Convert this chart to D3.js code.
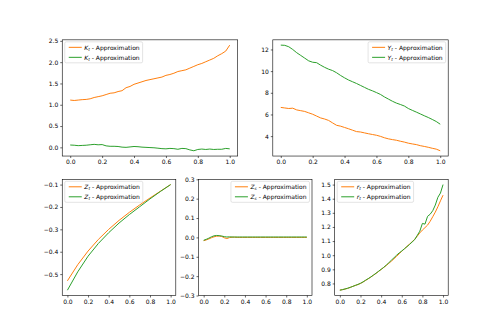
<!DOCTYPE html>
<html><head><meta charset="utf-8">
<script src="https://cdn.jsdelivr.net/npm/d3@7"></script>
<style>
body{margin:0;background:#fff;}
text{font-family:"DejaVu Sans",sans-serif;}
</style></head>
<body><svg id="c" width="498" height="332"></svg>
<script>
// ---- data ----
const xFine = d3.range(41).map(i => i / 40);           // 0, 0.025, ... 1.0
const xTicks = [0, 0.2, 0.4, 0.6, 0.8, 1.0];

const kApprox = [1.11,1.10,1.11,1.12,1.125,1.14,1.17,1.19,1.21,1.24,1.27,1.28,1.31,1.33,1.40,1.43,1.48,1.51,1.54,1.57,1.59,1.61,1.63,1.65,1.69,1.71,1.74,1.78,1.80,1.82,1.86,1.90,1.94,1.97,2.01,2.05,2.09,2.15,2.20,2.26,2.40];
const kExact  = [0.055,0.05,0.04,0.045,0.05,0.06,0.07,0.06,0.065,0.035,0.025,0.025,0.02,0.005,0.0,0.01,0.02,0.015,0.005,0.0,-0.005,-0.01,-0.02,-0.03,-0.035,-0.025,-0.03,-0.045,-0.025,-0.03,-0.06,-0.08,-0.05,-0.04,-0.05,-0.04,-0.05,-0.045,-0.045,-0.025,-0.035];
const kTicks = [0.0, 0.5, 1.0, 1.5, 2.0, 2.5];

const yApprox = [6.65,6.60,6.55,6.58,6.42,6.35,6.28,6.15,6.02,5.85,5.68,5.58,5.45,5.22,5.00,4.92,4.80,4.68,4.55,4.42,4.38,4.30,4.22,4.15,4.08,3.98,3.85,3.75,3.68,3.62,3.53,3.45,3.35,3.28,3.22,3.12,3.05,2.97,2.88,2.80,2.65];
const yExact  = [12.40,12.38,12.25,12.0,11.7,11.45,11.2,10.95,10.82,10.78,10.55,10.35,10.18,10.05,9.85,9.6,9.38,9.18,9.02,8.86,8.68,8.5,8.32,8.18,8.02,7.85,7.62,7.42,7.22,7.05,6.92,6.78,6.55,6.38,6.22,6.05,5.88,5.72,5.54,5.35,5.10];
const yTicksY = [4, 6, 8, 10, 12];

const xCoarse = d3.range(11).map(i => i / 10);
const ztApprox = [-0.530,-0.458,-0.397,-0.345,-0.300,-0.260,-0.224,-0.191,-0.160,-0.130,-0.100];
const ztExact  = [-0.572,-0.490,-0.420,-0.363,-0.315,-0.272,-0.234,-0.199,-0.164,-0.131,-0.100];
const ztTicks = [-0.5, -0.4, -0.3, -0.2, -0.1];

const zsApprox = [-0.017,-0.013,-0.008,-0.002,0.003,0.006,0.007,0.005,-0.002,-0.006,-0.001,0.001,0.001,0,0,0,0,0,0,0,0,0,0,0,0,0,0,0,0,0,0,0,0,0,0,0,0,0,0,0,0];
const zsExact  = [-0.015,-0.010,-0.004,0.003,0.008,0.010,0.009,0.007,0.004,0.002,0.003,0.002,0.002,0.002,0.002,0.002,0.002,0.002,0.002,0.002,0.002,0.002,0.002,0.002,0.002,0.002,0.002,0.002,0.002,0.002,0.002,0.002,0.002,0.002,0.002,0.002,0.002,0.002,0.002,0.002,0.002];
const zsTicks = [-0.3, -0.2, -0.1, 0.0, 0.1, 0.2, 0.3];

const rApprox = [0.753,0.756,0.760,0.765,0.772,0.779,0.786,0.792,0.800,0.810,0.822,0.833,0.845,0.858,0.871,0.885,0.899,0.913,0.927,0.943,0.958,0.975,0.992,1.010,1.028,1.045,1.062,1.078,1.095,1.112,1.135,1.158,1.178,1.195,1.213,1.240,1.272,1.305,1.343,1.385,1.425];
const rExact  = [0.752,0.756,0.761,0.766,0.772,0.779,0.786,0.793,0.801,0.811,0.823,0.834,0.846,0.859,0.872,0.886,0.900,0.914,0.930,0.947,0.965,0.982,1.000,1.016,1.030,1.045,1.060,1.076,1.093,1.110,1.140,1.170,1.225,1.220,1.275,1.290,1.315,1.355,1.410,1.440,1.500];
const rTicks = [0.8, 0.9, 1.0, 1.1, 1.2, 1.3, 1.4, 1.5];

// ---- styles ----
const ORANGE = "#ff7f0e", GREEN = "#2ca02c";
const FS = 6;

const svg = d3.select("#c");

function panel(o) {
  const x = d3.scaleLinear().domain([-0.05, 1.05]).range([o.left, o.right]);
  let dom = o.yDomain;
  if (!dom) {
    const all = o.series.flatMap(s => s.values);
    const mn = d3.min(all), mx = d3.max(all), r = mx - mn;
    dom = [mn - 0.05 * r, mx + 0.05 * r];
  }
  const y = d3.scaleLinear().domain(dom).range([o.bottom, o.top]);
  const g = svg.append("g");

  const line = d3.line().x(d => x(d[0])).y(d => y(d[1]));
  o.series.forEach(s => {
    g.append("path").datum(o.x.map((xv, i) => [xv, s.values[i]]))
      .attr("d", line).attr("fill", "none").attr("stroke", s.color).attr("stroke-width", 1);
  });

  const fmt = o.fmt || d3.format(".1f");
  const ax = g.append("g").attr("transform", `translate(0,${o.bottom})`)
    .call(d3.axisBottom(x).tickValues(xTicks).tickFormat(d3.format(".1f")).tickSize(2).tickPadding(2));
  const ay = g.append("g").attr("transform", `translate(${o.left},0)`)
    .call(d3.axisLeft(y).tickValues(o.yTicks).tickFormat(fmt).tickSize(2).tickPadding(2));
  [ax, ay].forEach(a => {
    a.select(".domain").remove();
    a.selectAll("line").attr("stroke", "#000").attr("stroke-width", 0.6);
    a.selectAll("text").attr("font-size", FS).attr("fill", "#000").attr("font-family", "DejaVu Sans");
  });
  g.append("rect").attr("x", o.left).attr("y", o.top)
    .attr("width", o.right - o.left).attr("height", o.bottom - o.top)
    .attr("fill", "none").attr("stroke", "#000").attr("stroke-width", 0.6);

  // legend
  const lg = g.append("g");
  const rows = o.series.map((s, i) => {
    const t = lg.append("text").attr("font-size", FS).attr("fill", "#000");
    t.append("tspan").attr("font-style", "italic").text(o.sym);
    t.append("tspan").attr("font-style", "italic").attr("font-size", 4.2).attr("dy", 1.3).text(o.sub);
    t.append("tspan").attr("dy", -1.3).text(" - Approximation");
    return t;
  });
  const tw = d3.max(rows, t => t.node().getComputedTextLength());
  const bw = 19.5 + tw + 3, bh = 21;
  const bx = o.legend === "left" ? o.left + 2.5 : o.right - 2.5 - bw;
  const by = o.top + 2;
  lg.insert("rect", ":first-child").attr("x", bx).attr("y", by).attr("width", bw).attr("height", bh)
    .attr("rx", 1.5).attr("fill", "#fff").attr("fill-opacity", 0.8)
    .attr("stroke", "#d0d0d0").attr("stroke-width", 0.6);
  o.series.forEach((s, i) => {
    const cy = by + 5.5 + i * 10;
    lg.append("line").attr("x1", bx + 4).attr("x2", bx + 17).attr("y1", cy).attr("y2", cy)
      .attr("stroke", s.color).attr("stroke-width", 1);
    rows[i].attr("x", bx + 19.5).attr("y", cy + 2.2);
  });
}

const T0 = 39.84, T1 = 156.04, B0 = 179.3, B1 = 295.5;

panel({left: 62.25, right: 237.7, top: T0, bottom: T1, x: xFine,
  series: [{values: kApprox, color: ORANGE}, {values: kExact, color: GREEN}],
  yTicks: kTicks, sym: "K", sub: "t", legend: "left"});
panel({left: 272.8, right: 448.2, top: T0, bottom: T1, x: xFine,
  series: [{values: yApprox, color: ORANGE}, {values: yExact, color: GREEN}],
  yTicks: yTicksY, fmt: d3.format("d"), sym: "Y", sub: "t", legend: "right"});
panel({left: 62.25, right: 175.8, top: B0, bottom: B1, x: xCoarse,
  series: [{values: ztApprox, color: ORANGE}, {values: ztExact, color: GREEN}],
  yTicks: ztTicks, sym: "Z", sub: "t", legend: "left"});
panel({left: 198.5, right: 312.0, top: B0, bottom: B1, x: xFine, yDomain: [-0.3, 0.3],
  series: [{values: zsApprox, color: ORANGE}, {values: zsExact, color: GREEN}],
  yTicks: zsTicks, sym: "Z", sub: "s", legend: "right"});
panel({left: 334.7, right: 448.2, top: B0, bottom: B1, x: xFine,
  series: [{values: rApprox, color: ORANGE}, {values: rExact, color: GREEN}],
  yTicks: rTicks, sym: "r", sub: "t", legend: "left"});
</script>
</body></html>
